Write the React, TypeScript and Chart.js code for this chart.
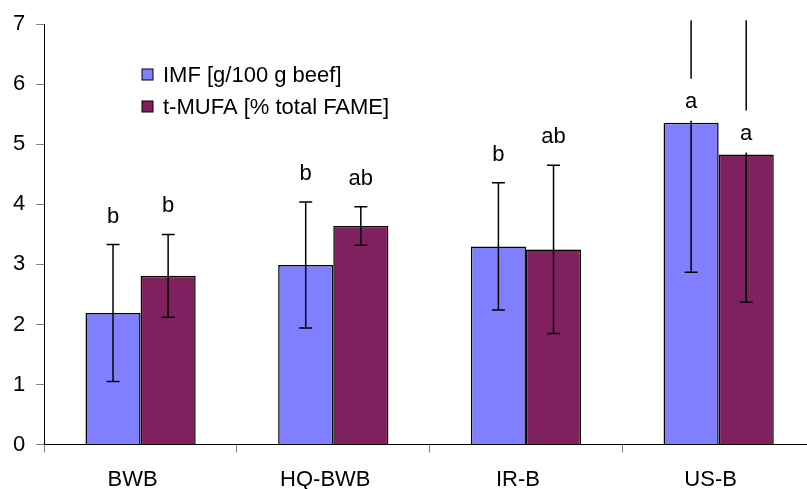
import React, { useEffect, useRef } from 'react';
import { Chart, registerables } from 'chart.js';

Chart.register(...registerables);

const categories = ['BWB', 'HQ-BWB', 'IR-B', 'US-B'];
const seriesNames = ['IMF [g/100 g beef]', 't-MUFA [% total FAME]'];
const imfValues = [2.19, 2.99, 3.3, 5.36];
const imfErrors = [1.14, 1.05, 1.06, 2.49];
const imfLetters = ['b', 'b', 'b', 'a'];
const mufaValues = [2.81, 3.64, 3.25, 4.83];
const mufaErrors = [0.69, 0.32, 1.4, 2.46];
const mufaLetters = ['b', 'ab', 'ab', 'a'];
const yMin = 0;
const yMax = 7;
const yStep = 1;

const FONT = "'Liberation Sans', Arial, sans-serif";
const FS = 22;

const errorBarPlugin = {
  id: 'errorBarsLetters',
  afterDatasetsDraw(chart: any) {
    const { ctx, chartArea, scales } = chart;
    const y = scales.y;
    const letterJobs: any[] = [];
    chart.data.datasets.forEach((ds: any, di: number) => {
      const meta = chart.getDatasetMeta(di);
      meta.data.forEach((bar: any, i: number) => {
        const v = ds.data[i];
        const e = ds.errors[i];
        const x = bar.x;
        const yTop = y.getPixelForValue(v + e);
        const yBot = y.getPixelForValue(v - e);
        ctx.save();
        ctx.beginPath();
        ctx.rect(chartArea.left, chartArea.top - 4, chartArea.right - chartArea.left, chartArea.bottom - chartArea.top + 4);
        ctx.clip();
        ctx.strokeStyle = '#000';
        ctx.lineWidth = 1.5;
        ctx.beginPath();
        ctx.moveTo(x, yTop);
        ctx.lineTo(x, yBot);
        ctx.moveTo(x - 6.5, yBot);
        ctx.lineTo(x + 6.5, yBot);
        if (v + e <= y.max) {
          ctx.moveTo(x - 6.5, yTop);
          ctx.lineTo(x + 6.5, yTop);
        }
        ctx.stroke();
        ctx.restore();
        const over = v + e > y.max;
        const barTop = y.getPixelForValue(v);
        letterJobs.push({ x, text: ds.letters[i], over, barTop, capY: yTop });
      });
    });
    ctx.save();
    ctx.font = `${FS}px ${FONT}`;
    ctx.textAlign = 'center';
    ctx.textBaseline = 'alphabetic';
    letterJobs.forEach((j) => {
      let base;
      if (j.over) {
        base = j.barTop - 15;
        const w = ctx.measureText(j.text).width + 8;
        ctx.fillStyle = '#fff';
        ctx.fillRect(j.x - w / 2, base - 29, w, j.barTop - 2 - (base - 29));
      } else {
        base = j.capY - 22;
      }
      ctx.fillStyle = '#000';
      ctx.fillText(j.text, j.x, base);
    });
    ctx.restore();
  },
  afterDraw(chart: any) {
    const { ctx } = chart;
    ctx.save();
    ctx.font = `${FS}px ${FONT}`;
    ctx.textBaseline = 'middle';
    ctx.textAlign = 'left';
    chart.data.datasets.forEach((ds: any, di: number) => {
      const cy = 74.5 + di * 32;
      ctx.fillStyle = ds.backgroundColor;
      ctx.fillRect(142, cy - 5.5, 11, 11);
      ctx.strokeStyle = '#000';
      ctx.lineWidth = 1;
      ctx.strokeRect(142, cy - 5.5, 11, 11);
      ctx.fillStyle = '#000';
      ctx.fillText(ds.label, 163, cy + 1);
    });
    ctx.restore();
  },
};

export default function App() {
  const ref = useRef<HTMLCanvasElement | null>(null);
  useEffect(() => {
    document.body.style.margin = '0';
    const canvas = ref.current!;
    const chart = new Chart(canvas, {
      type: 'bar',
      data: {
        labels: categories,
        datasets: [
          {
            label: seriesNames[0],
            data: imfValues,
            errors: imfErrors,
            letters: imfLetters,
            backgroundColor: '#8080FF',
            borderColor: '#000',
            borderWidth: 1.5,
            categoryPercentage: 0.572,
            barPercentage: 1,
          } as any,
          {
            label: seriesNames[1],
            data: mufaValues,
            errors: mufaErrors,
            letters: mufaLetters,
            backgroundColor: '#80205F',
            borderColor: '#000',
            borderWidth: 1.5,
            categoryPercentage: 0.572,
            barPercentage: 1,
          } as any,
        ],
      },
      options: {
        animation: false,
        responsive: false,
        devicePixelRatio: 1,
        layout: { padding: { left: 2, top: 24, right: 0, bottom: 0 } },
        plugins: { legend: { display: false }, tooltip: { enabled: false } },
        scales: {
          x: {
            offset: true,
            grid: { offset: true, drawOnChartArea: false, drawTicks: true, tickLength: 8, color: '#808080' },
            border: { color: '#000', width: 1 },
            ticks: {
              color: '#000',
              font: { family: FONT, size: FS },
              padding: 14,
              labelOffset: -8,
              maxRotation: 0,
              autoSkip: false,
            },
          },
          y: {
            min: yMin,
            max: yMax,
            grid: { drawOnChartArea: false, drawTicks: true, tickLength: 8, color: '#808080' },
            border: { color: '#000', width: 1 },
            ticks: {
              stepSize: yStep,
              color: '#000',
              font: { family: FONT, size: FS },
              padding: 11,
            },
          },
        },
      } as any,
      plugins: [errorBarPlugin],
    });
    return () => chart.destroy();
  }, []);
  return (
    <div style={{ position: 'fixed', left: 0, top: 0, width: 807, height: 489, overflow: 'hidden', background: '#fff' }}>
      <canvas ref={ref} width={815} height={507} style={{ display: 'block', width: 815, height: 507 }} />
    </div>
  );
}
